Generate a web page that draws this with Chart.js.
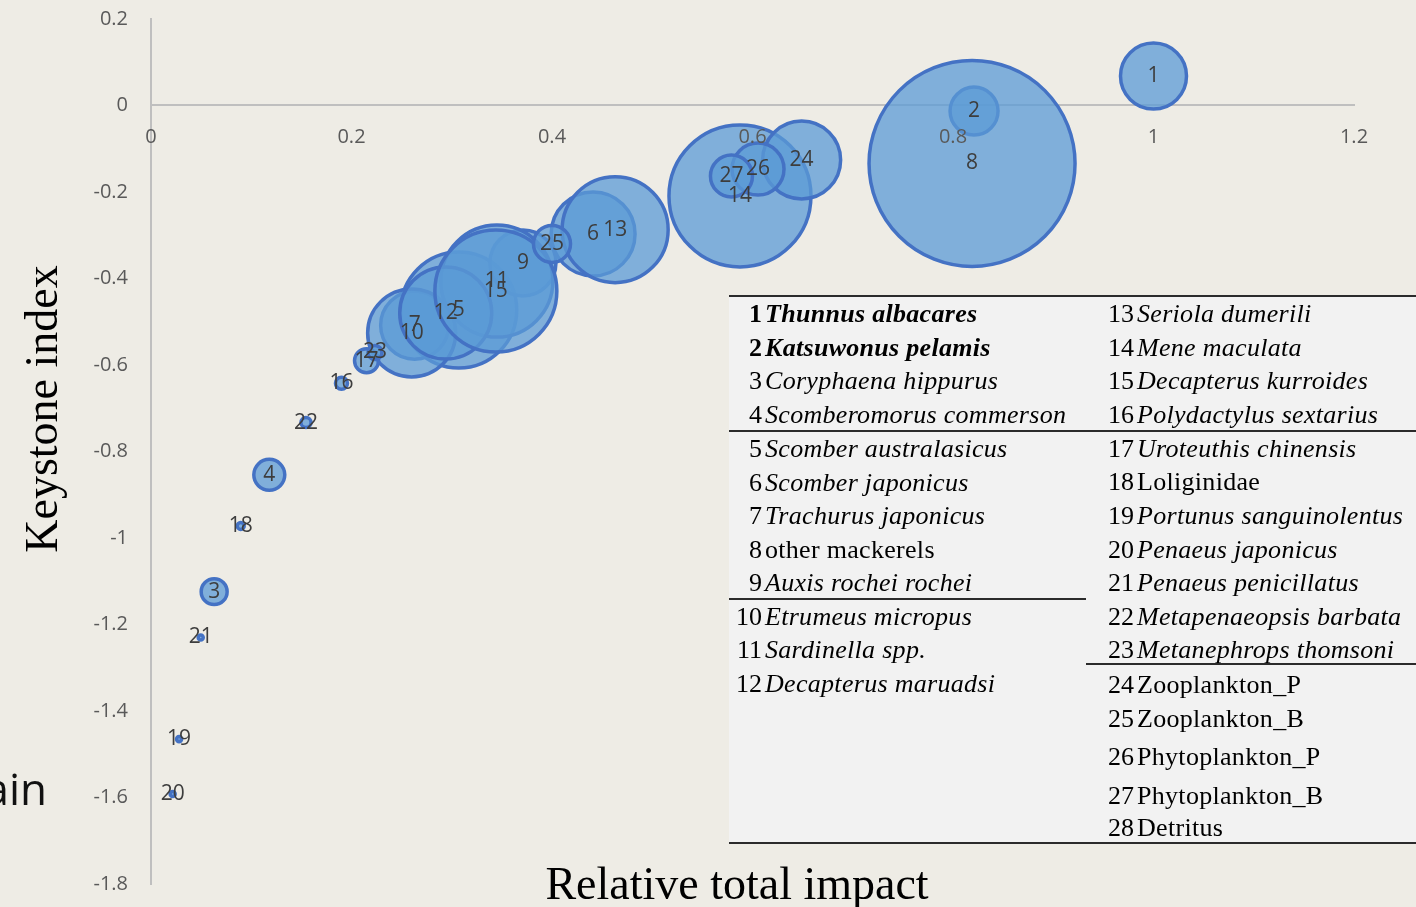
<!DOCTYPE html>
<html>
<head>
<meta charset="utf-8">
<title>Keystone index vs relative total impact</title>
<script src="https://cdn.jsdelivr.net/npm/chart.js@4.4.1/dist/chart.umd.min.js"></script>
<style>
  html, body { margin: 0; padding: 0; background: #EEECE5; width: 1416px; height: 907px; overflow: hidden; }
  #wrap { position: relative; width: 1416px; height: 907px; overflow: hidden; }
  #plot { position: absolute; left: 0; top: 0; }
  .serif { font-family: "Liberation Serif", "Times New Roman", serif; color: #000; }
  #ytitle { position: absolute; left: -158.5px; top: 386px; width: 400px; height: 46px;
            font-size: 46px; line-height: 46px; text-align: center; transform: rotate(-90deg); white-space: nowrap; }
  #xtitle { position: absolute; left: 437px; top: 861px; width: 600px; height: 46px;
            font-size: 46px; line-height: 46px; text-align: center; white-space: nowrap; }
  #side { position: absolute; right: 1369px; top: 766px; font-family: "Open Sans", sans-serif;
          font-size: 44px; line-height: 44px; color: #111; white-space: nowrap; }
  #key { position: absolute; left: 729px; top: 296px; width: 687px; height: 547px; background: #F2F2F2; }
  #key .rule { position: absolute; height: 1.5px; background: #2b2b2b; }
  #key .row { position: absolute; height: 26px; font-size: 26px; line-height: 26px; white-space: nowrap; letter-spacing: 0.3px; }
  #key .num { position: absolute; width: 40px; text-align: right; font-style: normal; letter-spacing: 0; }
  #key .name { position: absolute; }
  #key .it { font-style: italic; }
  #key .bd { font-weight: bold; }
</style>
</head>
<body>
<div id="wrap">
  <canvas id="plot" width="1416" height="907"></canvas>
  <div id="ytitle" class="serif">Keystone index</div>
  <div id="xtitle" class="serif">Relative total impact</div>
  <div id="side">ain</div>
  <div id="key" class="serif"></div>
</div>
<script>
// Functional groups of the ecosystem model
const groupIds = [1, 2, 3, 4, 5, 6, 7, 8, 9, 10, 11, 12, 13, 14, 15, 16, 17, 18, 19, 20, 21, 22, 23, 24, 25, 26, 27, 28];
const groupNames = [
  "Thunnus albacares", "Katsuwonus pelamis", "Coryphaena hippurus", "Scomberomorus commerson",
  "Scomber australasicus", "Scomber japonicus", "Trachurus japonicus", "other mackerels",
  "Auxis rochei rochei", "Etrumeus micropus", "Sardinella spp.", "Decapterus maruadsi",
  "Seriola dumerili", "Mene maculata", "Decapterus kurroides", "Polydactylus sextarius",
  "Uroteuthis chinensis", "Loliginidae", "Portunus sanguinolentus", "Penaeus japonicus",
  "Penaeus penicillatus", "Metapenaeopsis barbata", "Metanephrops thomsoni", "Zooplankton_P",
  "Zooplankton_B", "Phytoplankton_P", "Phytoplankton_B", "Detritus"
];
const keystoneGroups = [1, 2];                 // written in bold
const nonSpeciesGroups = [8, 18, 24, 25, 26, 27, 28]; // written upright

// Plotted groups (1-27)
const plottedIds = [1, 2, 3, 4, 5, 6, 7, 8, 9, 10, 11, 12, 13, 14, 15, 16, 17, 18, 19, 20, 21, 22, 23, 24, 25, 26, 27];
const relativeTotalImpact = [
  1.000, 0.821, 0.063, 0.118, 0.307, 0.441, 0.263, 0.819, 0.371, 0.260,
  0.345, 0.294, 0.463, 0.5875, 0.344, 0.190, 0.215, 0.0895, 0.028, 0.0216,
  0.0496, 0.1546, 0.2234, 0.649, 0.400, 0.6055, 0.579
];
const keystoneIndex = [
  0.068, -0.013, -1.124, -0.854, -0.473, -0.297, -0.508, -0.134, -0.364, -0.526,
  -0.406, -0.480, -0.287, -0.209, -0.429, -0.642, -0.590, -0.972, -1.465, -1.592,
  -1.230, -0.733, -0.571, -0.126, -0.320, -0.147, -0.163
];
// Relative bubble size (largest group = 1)
const bubbleSize = [
  0.1027, 0.0543, 0.0159, 0.0226, 0.317, 0.166, 0.109, 1.0, 0.1027, 0.1825,
  0.2956, 0.1995, 0.2648, 0.475, 0.3507, 0.0034, 0.0136, 0.00115, 0.0006, 0.0006,
  0.0006, 0.0024, 0.0046, 0.1434, 0.0323, 0.0637, 0.0416
];
// Axis ticks
const xTicks = [0, 0.2, 0.4, 0.6, 0.8, 1, 1.2];
const yTicks = [0.2, 0, -0.2, -0.4, -0.6, -0.8, -1, -1.2, -1.4, -1.6, -1.8];

// ---- bubble chart ----
const MAX_RADIUS = 103;
const maxSize = Math.max(...bubbleSize);
const points = plottedIds.map((id, i) => ({
  x: relativeTotalImpact[i],
  y: keystoneIndex[i],
  r: MAX_RADIUS * Math.sqrt(bubbleSize[i] / maxSize)
}));

const bubbleLabels = {
  id: 'bubbleLabels',
  afterDatasetsDraw(chart) {
    const ctx = chart.ctx;
    const meta = chart.getDatasetMeta(0);
    ctx.save();
    ctx.font = '21px "Open Sans", sans-serif';
    ctx.fillStyle = '#3d3d3d';
    ctx.textAlign = 'center';
    ctx.textBaseline = 'middle';
    meta.data.forEach((el, i) => ctx.fillText(String(plottedIds[i]), el.x, el.y));
    ctx.restore();
  }
};

const tickFont = { family: '"Open Sans", sans-serif', size: 20 };

// plot frame inside the 1416x907 canvas
const FRAME = { left: 151, right: 1354, top: 19, bottom: 884 };

new Chart(document.getElementById('plot'), {
  type: 'bubble',
  data: {
    datasets: [{
      data: points,
      backgroundColor: 'rgba(91,155,213,0.75)',
      borderColor: '#4472C4',
      borderWidth: 3.5,
      hoverBorderWidth: 3.5
    }]
  },
  options: {
    responsive: false,
    devicePixelRatio: 1,
    animation: false,
    events: [],
    layout: { autoPadding: false,
              padding: { left: 0, right: 1416 - FRAME.right, top: FRAME.top, bottom: 907 - FRAME.bottom } },
    plugins: { legend: { display: false }, tooltip: { enabled: false } },
    scales: {
      x: {
        type: 'linear',
        min: xTicks[0],
        max: xTicks[xTicks.length - 1],
        position: { y: 0 },
        afterBuildTicks: s => { s.ticks = xTicks.map(v => ({ value: v })); },
        afterFit: s => { s.paddingLeft = 0; s.paddingRight = 0; },
        ticks: { font: tickFont, color: '#595959', padding: 20, z: 1, maxRotation: 0,
                 callback: v => String(v) },
        grid: { display: false, drawTicks: false },
        border: { display: true, color: '#BFBFBF', width: 2, z: 0 }
      },
      y: {
        type: 'linear',
        min: yTicks[yTicks.length - 1],
        max: yTicks[0],
        position: 'left',
        afterBuildTicks: s => { s.ticks = yTicks.slice().reverse().map(v => ({ value: v })); },
        afterFit: s => { s.width = FRAME.left; s.paddingTop = 0; s.paddingBottom = 0; },
        ticks: { font: tickFont, color: '#595959', padding: 23, callback: v => String(v) },
        grid: { display: false, drawTicks: false },
        border: { display: true, color: '#BFBFBF', width: 2 }
      }
    }
  },
  plugins: [bubbleLabels]
});

// ---- group key ----
const KEY_TOP = 296;
const leftRowsY  = [314, 348, 381, 415, 449, 483, 516, 550, 583, 617, 650, 684];
const rightRowsY = [314, 348, 381, 415, 449, 482, 516, 550, 583, 617, 650, 685, 719, 757, 796, 828];
const key = document.getElementById('key');

function addRule(x1, x2, y, h) {
  const d = document.createElement('div');
  d.className = 'rule';
  d.style.left = (x1 - 729) + 'px';
  d.style.width = (x2 - x1) + 'px';
  d.style.top = (y - KEY_TOP) + 'px';
  if (h) d.style.height = h + 'px';
  key.appendChild(d);
}
function addRow(idx, cy, numRight) {
  const id = groupIds[idx];
  const row = document.createElement('div');
  row.className = 'row';
  row.style.left = '0px';
  row.style.top = (cy - 13 - KEY_TOP) + 'px';
  const num = document.createElement('span');
  num.className = 'num';
  num.style.left = (numRight - 40 - 729) + 'px';
  num.textContent = String(id);
  const name = document.createElement('span');
  name.className = 'name';
  name.style.left = (numRight + 3 - 729) + 'px';
  name.textContent = groupNames[idx];
  if (!nonSpeciesGroups.includes(id)) name.classList.add('it');
  if (keystoneGroups.includes(id)) { name.classList.add('bd'); num.classList.add('bd'); }
  row.appendChild(num);
  row.appendChild(name);
  key.appendChild(row);
}
leftRowsY.forEach((cy, i) => addRow(i, cy, 762));
rightRowsY.forEach((cy, i) => addRow(12 + i, cy, 1134));

addRule(729, 1416, 295, 2);
addRule(729, 1416, 430);
addRule(729, 1086, 598);
addRule(1086, 1416, 663);
addRule(729, 1416, 842, 2);
</script>
</body>
</html>
